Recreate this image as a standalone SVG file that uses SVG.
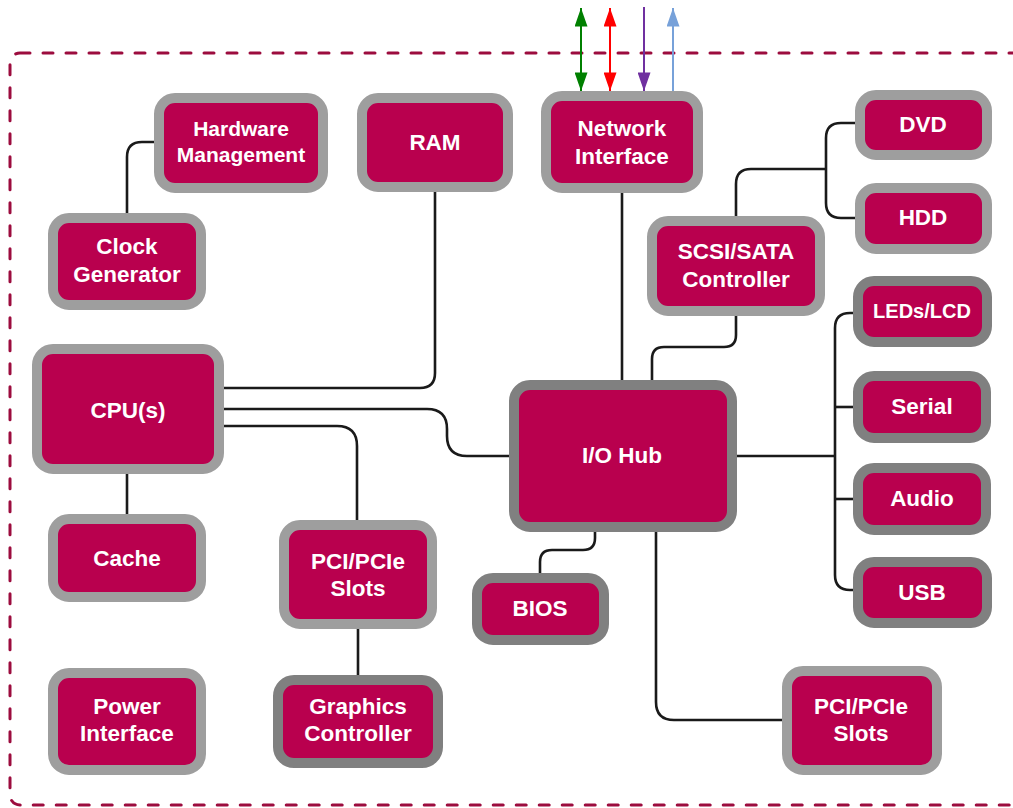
<svg xmlns="http://www.w3.org/2000/svg" width="1013" height="808" viewBox="0 0 1013 808">
<style>
.frame{fill:none;stroke:#9c0c3e;stroke-width:3;stroke-dasharray:10 13;stroke-linecap:round}
.n rect{fill:#b9004e;stroke:#9e9e9e;stroke-width:10}
.n.d rect{stroke:#808080}
.n text{fill:#fff;font-family:"Liberation Sans",Arial,sans-serif;font-weight:bold;font-size:22.5px;text-anchor:middle}
.n text.s{font-size:21px}
.n text.xs{font-size:20px}
.c path{fill:none;stroke:#1a1a1a;stroke-width:2.6}
.a line{stroke-width:2}
</style>
<defs>
<marker id="mg" viewBox="0 0 20 14" refX="20" refY="7" markerWidth="20" markerHeight="13" markerUnits="userSpaceOnUse" orient="auto-start-reverse"><path d="M0,0 L20,7 L0,14 z" fill="#008000"/></marker>
<marker id="mr" viewBox="0 0 20 14" refX="20" refY="7" markerWidth="20" markerHeight="13" markerUnits="userSpaceOnUse" orient="auto-start-reverse"><path d="M0,0 L20,7 L0,14 z" fill="#ff0000"/></marker>
<marker id="mp" viewBox="0 0 20 14" refX="20" refY="7" markerWidth="20" markerHeight="13" markerUnits="userSpaceOnUse" orient="auto-start-reverse"><path d="M0,0 L20,7 L0,14 z" fill="#7030a0"/></marker>
<marker id="mb" viewBox="0 0 20 14" refX="20" refY="7" markerWidth="20" markerHeight="13" markerUnits="userSpaceOnUse" orient="auto-start-reverse"><path d="M0,0 L20,7 L0,14 z" fill="#77a1d9"/></marker>
</defs>
<rect class="frame" x="10" y="53" width="1030" height="752" rx="10"/>
<g id="connectors" class="c">
<path d="M127,218 V157 Q127,142 142,142 H160"/>
<path d="M435,187 V373 Q435,388 420,388 H219"/>
<path d="M219,409 H427 Q447,409 447,429 V436 Q447,456 467,456 H514"/>
<path d="M219,426 H337 Q357,426 357,446 V525"/>
<path d="M127,469 V519"/>
<path d="M358,629 V680"/>
<path d="M622,188 V385"/>
<path d="M736,311 V335 Q736,347 724,347 H664 Q652,347 652,359 V385"/>
<path d="M736,221 V184 Q736,169 751,169 H826"/>
<path d="M860,123 H841 Q826,123 826,138 V203 Q826,218 841,218 H860"/>
<path d="M732,456 H835"/>
<path d="M858,313 H850 Q835,313 835,328 V575 Q835,590 850,590 H858"/>
<path d="M835,407 H858"/>
<path d="M835,499 H858"/>
<path d="M595,527 V538 Q595,550 583,550 H552 Q540,550 540,562 V578"/>
<path d="M656,527 V702 Q656,720 674,720 H787"/>
</g>
<g id="arrows" class="a">
<line x1="581" y1="8" x2="581" y2="91" stroke="#008000" marker-start="url(#mg)" marker-end="url(#mg)"/>
<line x1="610" y1="8" x2="610" y2="91" stroke="#ff0000" marker-start="url(#mr)" marker-end="url(#mr)"/>
<line x1="644" y1="7" x2="644" y2="91" stroke="#7030a0" marker-end="url(#mp)"/>
<line x1="673" y1="91" x2="673" y2="8" stroke="#77a1d9" marker-end="url(#mb)"/>
</g>
<g id="hw" class="n"><rect x="159" y="98" width="164" height="90" rx="16"/><text class="s" x="241" y="136">Hardware</text><text class="s" x="241" y="162">Management</text></g>
<g id="ram" class="n"><rect x="362" y="98" width="146" height="89" rx="16"/><text x="435" y="150">RAM</text></g>
<g id="net" class="n"><rect x="546" y="96" width="152" height="92" rx="16"/><text x="622" y="136">Network</text><text x="622" y="164">Interface</text></g>
<g id="dvd" class="n"><rect x="860" y="95" width="127" height="60" rx="16"/><text x="923" y="132">DVD</text></g>
<g id="hdd" class="n"><rect x="860" y="188" width="127" height="61" rx="16"/><text x="923" y="225">HDD</text></g>
<g id="clock" class="n"><rect x="53" y="218" width="148" height="87" rx="16"/><text x="127" y="254">Clock</text><text x="127" y="282">Generator</text></g>
<g id="scsi" class="n"><rect x="652" y="221" width="168" height="90" rx="16"/><text x="736" y="259">SCSI/SATA</text><text x="736" y="287">Controller</text></g>
<g id="leds" class="n d"><rect x="858" y="281" width="129" height="61" rx="16"/><text class="xs" x="922" y="318">LEDs/LCD</text></g>
<g id="serial" class="n d"><rect x="858" y="376" width="128" height="62" rx="16"/><text x="922" y="414">Serial</text></g>
<g id="audio" class="n d"><rect x="858" y="468" width="128" height="62" rx="16"/><text x="922" y="506">Audio</text></g>
<g id="usb" class="n d"><rect x="858" y="562" width="129" height="61" rx="16"/><text x="922" y="600">USB</text></g>
<g id="cpu" class="n"><rect x="37" y="349" width="182" height="120" rx="16"/><text x="128" y="418">CPU(s)</text></g>
<g id="iohub" class="n d"><rect x="514" y="385" width="218" height="142" rx="16"/><text x="622" y="463">I/O Hub</text></g>
<g id="cache" class="n"><rect x="53" y="519" width="148" height="78" rx="16"/><text x="127" y="566">Cache</text></g>
<g id="pci1" class="n"><rect x="284" y="525" width="148" height="99" rx="16"/><text x="358" y="569">PCI/PCIe</text><text x="358" y="596">Slots</text></g>
<g id="bios" class="n d"><rect x="477" y="578" width="127" height="62" rx="16"/><text x="540" y="616">BIOS</text></g>
<g id="power" class="n"><rect x="53" y="673" width="148" height="97" rx="16"/><text x="127" y="714">Power</text><text x="127" y="741">Interface</text></g>
<g id="gfx" class="n d"><rect x="278" y="680" width="160" height="83" rx="16"/><text x="358" y="714">Graphics</text><text x="358" y="741">Controller</text></g>
<g id="pci2" class="n"><rect x="787" y="671" width="150" height="99" rx="16"/><text x="861" y="714">PCI/PCIe</text><text x="861" y="741">Slots</text></g>
</svg>
